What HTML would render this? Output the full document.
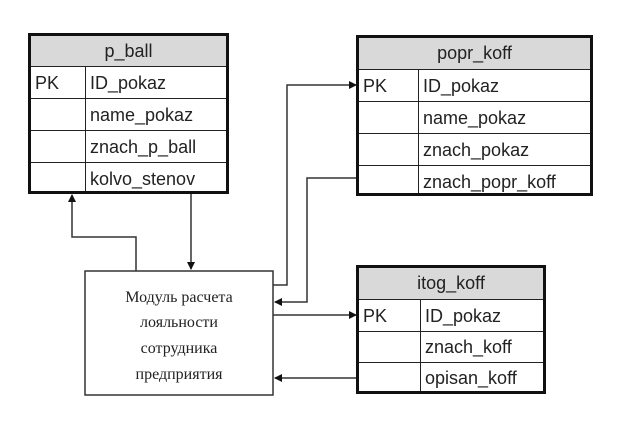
<!DOCTYPE html>
<html><head><style>
body{margin:0;background:#fff;width:627px;height:436px;overflow:hidden;position:relative;font-family:"Liberation Sans",sans-serif}
.t{position:absolute;border:3px solid #111;box-sizing:border-box}
.r{position:absolute;left:0;right:0;border-top:1.5px solid #222;font-size:18px;color:#222}
.h{position:absolute;left:0;right:0;top:0;background:#d9d9d9;text-align:center;font-size:18px;color:#222}
.pk{position:absolute;left:4px}
.v{position:absolute;border-left:1.5px solid #222}
.f{position:absolute}
</style></head><body>
<svg width="627" height="436" style="position:absolute;left:0;top:0">
<defs><marker id="a" markerWidth="8" markerHeight="8" refX="7" refY="4" orient="auto" markerUnits="userSpaceOnUse"><path d="M0,0 L8,4 L0,8z" fill="#111"/></marker></defs>
<g stroke="#333" stroke-width="1.5" fill="none">
<polyline points="136,271 136,237 72,237 72,195" marker-end="url(#a)"/>
<polyline points="191,194 191,269" marker-end="url(#a)"/>
<polyline points="273,285 287,285 287,85 356,85" marker-end="url(#a)"/>
<polyline points="357,178 307,178 307,302 275,302" marker-end="url(#a)"/>
<polyline points="273,315 356,315" marker-end="url(#a)"/>
<polyline points="357,378 275,378" marker-end="url(#a)"/>
</g>
<rect x="85" y="271" width="188" height="124" fill="#fff" stroke="#333" stroke-width="1.5"/>
<g font-family="Liberation Serif,serif" font-size="16" fill="#222" text-anchor="middle">
<text x="179" y="302">Модуль расчета</text>
<text x="179" y="327">лояльности</text>
<text x="179" y="353">сотрудника</text>
<text x="179" y="379">предприятия</text>
</g>
</svg>
<div class="t" style="left:28px;top:33px;width:201px;height:161px">
<div class="h" style="height:30px;line-height:30px">p_ball</div>
<div class="v" style="left:54px;top:30px;bottom:0"></div>
<div class="r" style="top:30px;height:32px;line-height:32px"><span class="pk">PK</span><span class="f" style="left:59px">ID_pokaz</span></div>
<div class="r" style="top:62px;height:32px;line-height:32px"><span class="f" style="left:59px">name_pokaz</span></div>
<div class="r" style="top:94px;height:32px;line-height:32px"><span class="f" style="left:59px">znach_p_ball</span></div>
<div class="r" style="top:126px;height:32px;line-height:32px"><span class="f" style="left:59px">kolvo_stenov</span></div>
</div>
<div class="t" style="left:356px;top:35px;width:237px;height:161px">
<div class="h" style="height:31px;line-height:31px">popr_koff</div>
<div class="v" style="left:59px;top:31px;bottom:0"></div>
<div class="r" style="top:31px;height:32px;line-height:32px"><span class="pk">PK</span><span class="f" style="left:64px">ID_pokaz</span></div>
<div class="r" style="top:63px;height:32px;line-height:32px"><span class="f" style="left:64px">name_pokaz</span></div>
<div class="r" style="top:95px;height:32px;line-height:32px"><span class="f" style="left:64px">znach_pokaz</span></div>
<div class="r" style="top:127px;height:32px;line-height:32px"><span class="f" style="left:64px">znach_popr_koff</span></div>
</div>
<div class="t" style="left:356px;top:265px;width:190px;height:129px">
<div class="h" style="height:31px;line-height:31px">itog_koff</div>
<div class="v" style="left:61px;top:31px;bottom:0"></div>
<div class="r" style="top:31px;height:32px;line-height:32px"><span class="pk">PK</span><span class="f" style="left:66px">ID_pokaz</span></div>
<div class="r" style="top:63px;height:31px;line-height:31px"><span class="f" style="left:66px">znach_koff</span></div>
<div class="r" style="top:94px;height:31px;line-height:31px"><span class="f" style="left:66px">opisan_koff</span></div>
</div>
</body></html>
